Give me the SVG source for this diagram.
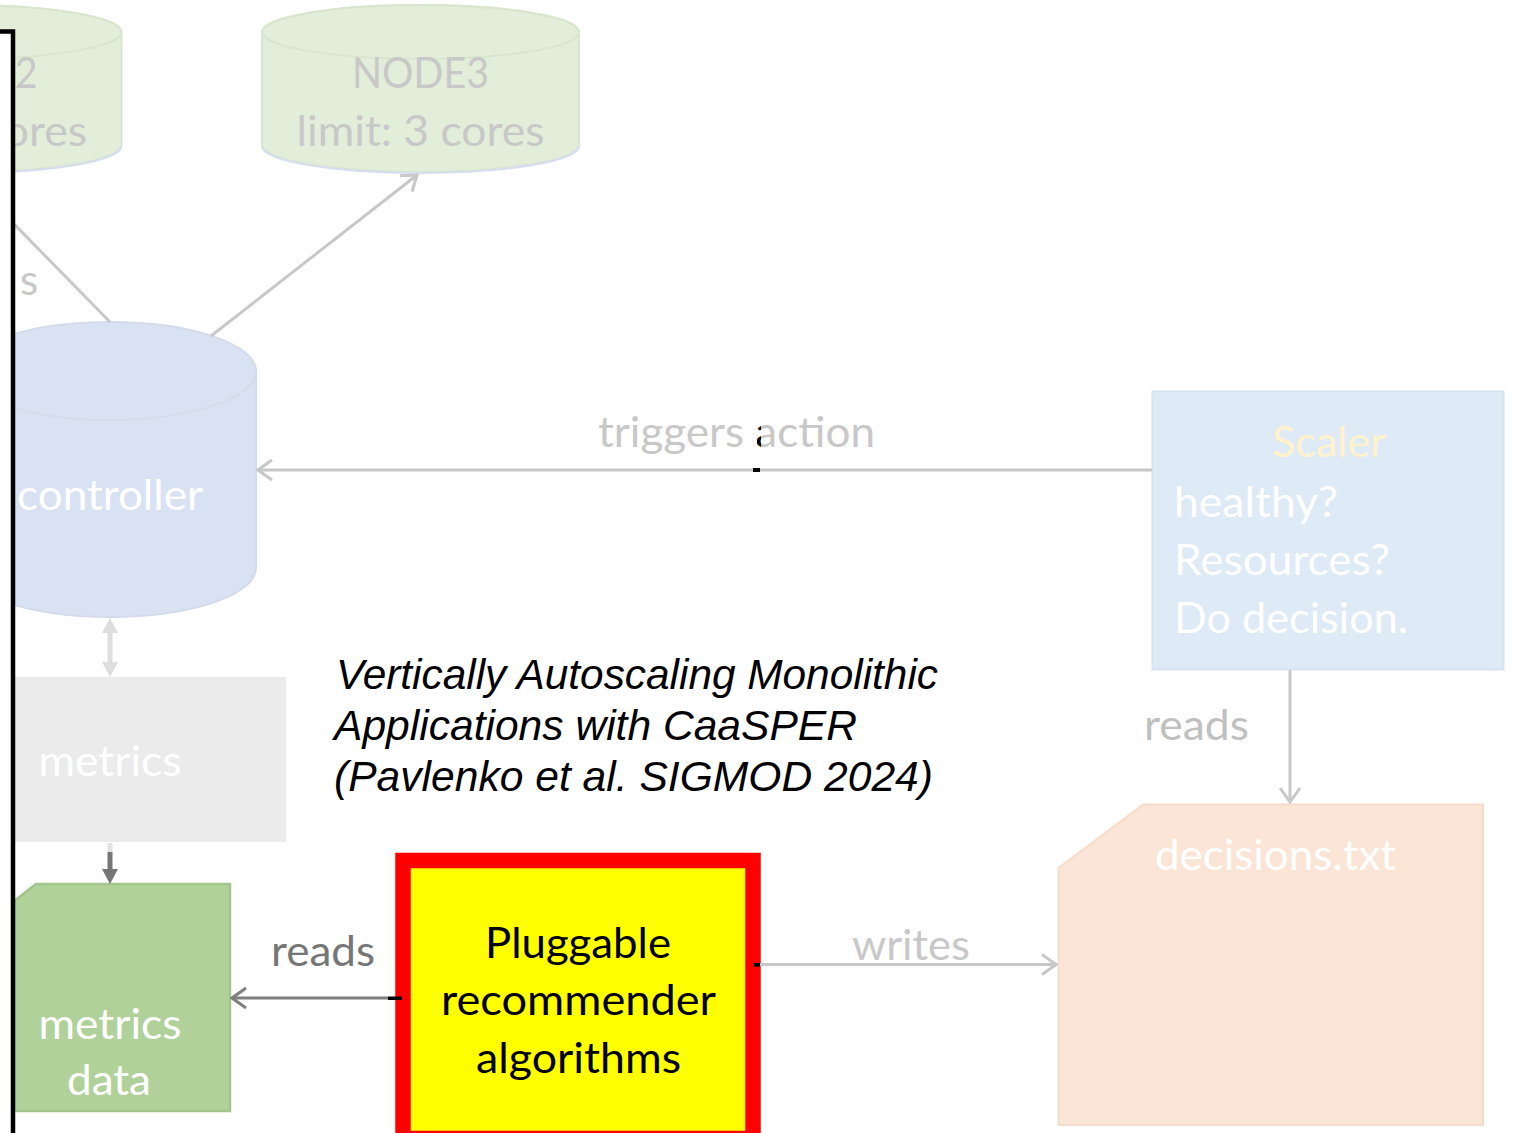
<svg xmlns="http://www.w3.org/2000/svg" width="1522" height="1133" viewBox="0 0 1522 1133">
<style>
.lbl{font-family:Lato,"Liberation Sans",sans-serif;font-size:42px}
.g{fill:#c8c8c8}
.w{fill:#ffffff}
.title{font-family:"Liberation Sans",Arial,sans-serif;font-size:42.5px;font-style:italic;fill:#000}
.con{fill:none;stroke:#c8c8c8;stroke-width:3}
</style>
<defs>
<marker id="chev" viewBox="0 0 18 24" refX="16" refY="12" markerWidth="18" markerHeight="24" markerUnits="userSpaceOnUse" orient="auto">
<path d="M2,2 L16,12 L2,22" fill="none" stroke="#c8c8c8" stroke-width="3"/>
</marker>
<marker id="chevDark" viewBox="0 0 18 24" refX="16" refY="12" markerWidth="18" markerHeight="24" markerUnits="userSpaceOnUse" orient="auto">
<path d="M2,2 L16,12 L2,22" fill="none" stroke="#7f7f7f" stroke-width="3"/>
</marker>
<clipPath id="aclip"><rect x="757" y="425" width="4" height="25"/></clipPath>
</defs>

<g id="node2">
<path d="M-195.5,32 A158.5,27 0 0 1 121.5,32 L121.5,145 A158.5,27 0 0 1 -195.5,145 Z" fill="#e2eed9" stroke="#d9e6cf" stroke-width="2"/>
<path d="M-195.5,146 A158.5,27 0 0 0 121.5,146" fill="none" stroke="#d5def0" stroke-width="2"/>
<ellipse cx="-37" cy="32" rx="158.5" ry="27" fill="none" stroke="#d9e6cf" stroke-width="2"/>
<text class="lbl g" x="-31" y="88" text-anchor="middle" textLength="137" lengthAdjust="spacingAndGlyphs">NODE2</text>
<text class="lbl g" x="-37" y="146" text-anchor="middle" textLength="248" lengthAdjust="spacingAndGlyphs">limit: 2 cores</text>
</g>

<g id="node3">
<path d="M262,32 A158.5,27 0 0 1 579,32 L579,145 A158.5,27 0 0 1 262,145 Z" fill="#e2eed9" stroke="#d9e6cf" stroke-width="2"/>
<path d="M262,146 A158.5,27 0 0 0 579,146" fill="none" stroke="#d5def0" stroke-width="2"/>
<ellipse cx="420.5" cy="32" rx="158.5" ry="27" fill="none" stroke="#d9e6cf" stroke-width="2"/>
<text class="lbl g" x="420.5" y="88" text-anchor="middle" textLength="137" lengthAdjust="spacingAndGlyphs">NODE3</text>
<text class="lbl g" x="420.5" y="146" text-anchor="middle" textLength="248" lengthAdjust="spacingAndGlyphs">limit: 3 cores</text>
</g>

<g id="controller">
<path d="M-36,371 A146,49 0 0 1 256,371 L256,568 A146,49 0 0 1 -36,568 Z" fill="#d9e2f3" stroke="#d4dcea" stroke-width="2"/>
<path d="M-36,371 A146,49 0 0 0 256,371" fill="none" stroke="#d4dcea" stroke-width="2"/>
<text class="lbl w" x="110" y="510" text-anchor="middle" textLength="186" lengthAdjust="spacingAndGlyphs">controller</text>
</g>

<g id="metrics">
<rect x="-66" y="677" width="352" height="165" fill="#ebebeb"/>
<text class="lbl w" x="110" y="776" text-anchor="middle" textLength="143" lengthAdjust="spacingAndGlyphs">metrics</text>
</g>

<g id="metrics-data">
<path d="M36,884 L230,884 L230,1111 L-10,1111 L-10,920 Z" fill="#b1d19b" stroke="#a3c58d" stroke-width="2.5"/>
<text class="lbl w" x="110" y="1039" text-anchor="middle" textLength="143" lengthAdjust="spacingAndGlyphs">metrics</text>
<text class="lbl w" x="109" y="1095" text-anchor="middle" textLength="84" lengthAdjust="spacingAndGlyphs">data</text>
</g>

<g id="recommender">
<rect x="403" y="860.5" width="350" height="278" fill="#ffff00" stroke="#ff0000" stroke-width="15.5"/>
<text class="lbl" x="578" y="958" text-anchor="middle" fill="#000" textLength="186" lengthAdjust="spacingAndGlyphs">Pluggable</text>
<text class="lbl" x="578.5" y="1015" text-anchor="middle" fill="#000" textLength="275" lengthAdjust="spacingAndGlyphs">recommender</text>
<text class="lbl" x="578.5" y="1073" text-anchor="middle" fill="#000" textLength="205" lengthAdjust="spacingAndGlyphs">algorithms</text>
</g>

<g id="scaler">
<rect x="1152.5" y="391.5" width="351" height="278" fill="#deeaf6" stroke="#d6e3f1" stroke-width="2"/>
<text class="lbl" x="1329" y="457" text-anchor="middle" fill="#fff2cc" textLength="114" lengthAdjust="spacingAndGlyphs">Scaler</text>
<text class="lbl w" x="1174" y="517" textLength="164" lengthAdjust="spacingAndGlyphs">healthy?</text>
<text class="lbl w" x="1174" y="575" textLength="216" lengthAdjust="spacingAndGlyphs">Resources?</text>
<text class="lbl w" x="1174" y="633" textLength="234" lengthAdjust="spacingAndGlyphs">Do decision.</text>
</g>

<g id="decisions">
<path d="M1143,804.5 L1483,804.5 L1483,1125 L1058.5,1125 L1058.5,868 Z" fill="#fbe5d6" stroke="#f6dccb" stroke-width="2"/>
<text class="lbl w" x="1275.5" y="870" text-anchor="middle" textLength="241" lengthAdjust="spacingAndGlyphs">decisions.txt</text>
</g>

<g id="title">
<text class="title" x="336" y="689" textLength="602" lengthAdjust="spacingAndGlyphs">Vertically Autoscaling Monolithic</text>
<text class="title" x="334" y="740" textLength="523" lengthAdjust="spacingAndGlyphs">Applications with CaaSPER</text>
<text class="title" x="334" y="791" textLength="599" lengthAdjust="spacingAndGlyphs">(Pavlenko et al. SIGMOD 2024)</text>
</g>

<g id="connectors">
<line class="con" x1="-37" y1="172" x2="110" y2="322"/>
<line class="con" x1="211" y1="336" x2="417" y2="175" marker-end="url(#chev)"/>
<line class="con" x1="1152" y1="470" x2="258" y2="470" marker-end="url(#chev)"/>
<line class="con" x1="1290" y1="670" x2="1290" y2="802" marker-end="url(#chev)"/>
<line class="con" x1="760" y1="964.5" x2="1056" y2="964.5" marker-end="url(#chev)"/>
<line x1="388" y1="998" x2="232" y2="998" fill="none" stroke="#7f7f7f" stroke-width="3" marker-end="url(#chevDark)"/>
<line x1="110" y1="633" x2="110" y2="662" stroke="#dedede" stroke-width="5"/>
<path d="M102,633 L110,618 L118,633 Z M102,662 L110,677 L118,662 Z" fill="#dedede"/>
<line x1="110" y1="843" x2="110" y2="852" stroke="#e2e2e2" stroke-width="5"/>
<line x1="110" y1="852" x2="110" y2="870" stroke="#767676" stroke-width="5"/>
<path d="M102,869 L118,869 L110,884 Z" fill="#767676"/>
<text class="lbl g" x="598" y="447" textLength="277" lengthAdjust="spacingAndGlyphs">triggers action</text>
<text class="lbl" x="598" y="447" fill="#000" clip-path="url(#aclip)" textLength="277" lengthAdjust="spacingAndGlyphs">triggers action</text>
<text class="lbl" x="1144" y="740" fill="#c0c0c0" textLength="105" lengthAdjust="spacingAndGlyphs">reads</text>
<text class="lbl g" x="852" y="960" textLength="118" lengthAdjust="spacingAndGlyphs">writes</text>
<text class="lbl" x="271" y="966" fill="#767676" textLength="104" lengthAdjust="spacingAndGlyphs">reads</text>
<rect x="753" y="468" width="7" height="4" fill="#000"/>
<rect x="754" y="963" width="6" height="3.5" fill="#000"/>
<rect x="388" y="996.5" width="14" height="3.5" fill="#000"/>
</g>

<g id="left-panel">
<rect x="-20" y="31.5" width="33" height="1200" fill="#ffffff" stroke="#000" stroke-width="4.5"/>
<text class="lbl g" x="20" y="295">s</text>
</g>
</svg>
